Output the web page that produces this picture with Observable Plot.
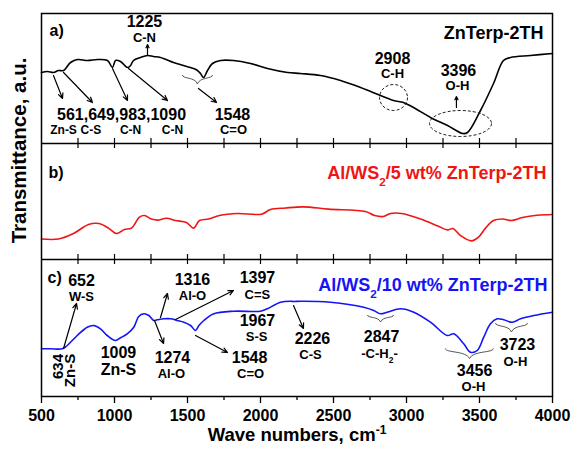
<!DOCTYPE html>
<html>
<head>
<meta charset="utf-8">
<script src="https://cdn.jsdelivr.net/npm/d3@7"></script>
<script src="https://cdn.jsdelivr.net/npm/@observablehq/plot@0.6"></script>
<style>
  html, body { margin: 0; padding: 0; background: white; }
</style>
</head>
<body>
<div id="chart"></div>
<script>
// ---- Spectrum a) ZnTerp-2TH (stacked arbitrary transmittance units)
const wnA = [500,541,582,616,651,699,747,815,884,952,986,1007,1041,1089,1110,1130,1178,1226,1267,1315,1404,1473,1521,1541,1568,1589,1610,1637,1671,1726,1815,1932,2048,2185,2274,2411,2548,2685,2822,2911,2979,3048,3164,3281,3384,3418,3507,3596,3664,3712,3849,4000];
const tA  = [324,325,324,326,326,334,337,336,337,336,329,336,335,329,331,336,339,341,340,339,334,331,329,328,326,323,319,326,333,336,336,333,328,324,323,321,316,309,301,296,294,289,279,271,263,264,286,313,336,339,341,343];

// ---- Spectrum b) Al/WS2/5 wt% ZnTerp-2TH
const wnB = [500,616,719,822,894,959,1014,1068,1116,1171,1205,1253,1295,1356,1418,1493,1541,1582,1644,1719,1842,2007,2068,2171,2294,2466,2719,2781,2842,2890,2966,3096,3219,3281,3318,3370,3445,3493,3541,3596,3658,3719,3794,3894,4000];
const tB  = [157.5,157.5,163,172,173,168.4,163,167,168.4,179.4,181,177.5,176.4,178.3,176,174,168.4,176,177.5,181,183,182.3,187,188.5,189.6,187.4,185,181,180,183,183,177.5,170.2,166.6,168,161,155.6,159.3,168.4,176,177.5,176,179,181.2,182];

// ---- Spectrum c) Al/WS2/10 wt% ZnTerp-2TH
const wnC = [500,562,642,676,745,813,858,904,950,1007,1041,1087,1132,1166,1201,1235,1269,1292,1338,1384,1429,1475,1521,1555,1578,1612,1680,1817,2000,2046,2137,2205,2228,2274,2479,2707,2776,2822,2868,2959,3050,3164,3279,3324,3392,3438,3484,3529,3575,3621,3666,3724,3781,3872,4000];
const tC  = [47.7,47.7,47.7,51,61,69.3,71,67.7,61,56,58.7,62.7,69.3,80,82.7,81,76,76.7,77.7,77.7,76,74.3,71,66,71,76,82.7,85.3,85.3,87.7,94.3,95.3,95,95.3,94.3,89.3,86,82.7,84.3,87.7,84.3,74.3,61,62.7,52.7,44.3,46,59.3,72.7,77.7,76.7,74.3,77.7,81,84.3];

// ---- Axes
const majorTicks = [500,1000,1500,2000,2500,3000,3500,4000];
const minorTicks = [750,1250,1750,2250,2750,3250,3750];
const innerTicks = [750,1000,1250,1500,1750,2000,2250,2500,2750,3000,3250,3500,3750];
const panelBounds = [137, 253];   // c|b and b|a boundaries (stacked units)
const xTitle = "Wave numbers, cm^{-1}";
const yTitle = "Transmittance, a.u.";

// ---- Panel titles
const panelTags = [
  {text: "a)", x: 555, y: 366},
  {text: "b)", x: 548, y: 224},
  {text: "c)", x: 541, y: 119}
];
const sampleNames = [
  {text: "ZnTerp-2TH", x: 3938, y: 363, color: "black"},
  {text: "Al/WS_{2}/5 wt% ZnTerp-2TH", x: 3959, y: 223, color: "#f01515"},
  {text: "Al/WS_{2}/10 wt% ZnTerp-2TH", x: 3966, y: 111, color: "#1414f5"}
];

// ---- Peak numbers
const peakNumbers = [
  {text: "1225", x: 1205, y: 375},
  {text: "561,649,983,1090", x: 1048, y: 282},
  {text: "1548", x: 1808, y: 282},
  {text: "2908", x: 2904, y: 338},
  {text: "3396", x: 3356, y: 326},
  {text: "652", x: 774, y: 116},
  {text: "1009", x: 1027, y: 44},
  {text: "1316", x: 1534, y: 117},
  {text: "1397", x: 1979, y: 119},
  {text: "1274", x: 1397, y: 39},
  {text: "1967", x: 1979, y: 76},
  {text: "1548", x: 1925, y: 39},
  {text: "2226", x: 2356, y: 58},
  {text: "2847", x: 2829, y: 60},
  {text: "3456", x: 3466, y: 26},
  {text: "3723", x: 3760, y: 52}
];
// ---- Bond labels
const bondLabels = [
  {text: "C-N", x: 1205, y: 359},
  {text: "C=O", x: 1815, y: 267},
  {text: "C-H", x: 2904, y: 323},
  {text: "O-H", x: 3349, y: 311},
  {text: "W-S", x: 774, y: 100},
  {text: "Al-O", x: 1534, y: 101},
  {text: "C=S", x: 1979, y: 102},
  {text: "Al-O", x: 1390, y: 23},
  {text: "S-S", x: 1973, y: 60},
  {text: "C=O", x: 1932, y: 23},
  {text: "C-S", x: 2342, y: 42},
  {text: "-C-H_{2}-", x: 2815, y: 43},
  {text: "O-H", x: 3459, y: 10},
  {text: "O-H", x: 3746, y: 35}
];
const bondLabelsSmall = [
  {text: "Zn-S", x: 651, y: 266},
  {text: "C-S", x: 838, y: 266},
  {text: "C-N", x: 1110, y: 266},
  {text: "C-N", x: 1397, y: 266}
];
const bondLabelsLarge = [
  {text: "Zn-S", x: 1027, y: 27}
];
const rotatedLabels = [
  {text: "634", x: 616, y: 30},
  {text: "Zn-S", x: 699, y: 26}
];

// ---- Arrows
const arrows = [
  {x1: 1226, y1: 341, x2: 1226, y2: 352},
  {x1: 582, y1: 321, x2: 644, y2: 298},
  {x1: 651, y1: 324, x2: 849, y2: 294},
  {x1: 986, y1: 328, x2: 1089, y2: 296},
  {x1: 1096, y1: 328, x2: 1363, y2: 296},
  {x1: 1575, y1: 308, x2: 1699, y2: 294},
  {x1: 3342, y1: 289, x2: 3342, y2: 300},
  {x1: 651, y1: 48, x2: 740, y2: 93},
  {x1: 1315, y1: 79, x2: 1363, y2: 103},
  {x1: 1418, y1: 77, x2: 1815, y2: 106},
  {x1: 1274, y1: 76, x2: 1336, y2: 53},
  {x1: 1555, y1: 61, x2: 1774, y2: 44},
  {x1: 2226, y1: 91, x2: 2294, y2: 68}
];

// ---- Circled / braced bands
const circleCH = {x: 2911, y: 299};
const ellipseOH = {x: 3370, y: 273};
const brace1548 = {x: 1568, y: 317};
const brace2847 = {x: 2822, y: 78};
const brace3456 = {x: 3431, y: 43};
const brace3723 = {x: 3719, y: 69};

// ---- helpers (shapes drawn by Plot.dot through custom symbols)
function ellipseSymbol(rx, ry) {
  const k = 0.5523;
  return {draw(c) {
    c.moveTo(rx, 0);
    c.bezierCurveTo(rx, k * ry, k * rx, ry, 0, ry);
    c.bezierCurveTo(-k * rx, ry, -rx, k * ry, -rx, 0);
    c.bezierCurveTo(-rx, -k * ry, -k * rx, -ry, 0, -ry);
    c.bezierCurveTo(k * rx, -ry, rx, -k * ry, rx, 0);
    c.closePath();
  }};
}
function braceSymbol(w, h) {
  const a = w / 2, b = h / 2;
  return {draw(c) {
    c.moveTo(-a, -b);
    c.bezierCurveTo(-a, -b * 0.1, -a * 0.15, -b * 0.6, 0, b);
    c.moveTo(a, -b);
    c.bezierCurveTo(a, -b * 0.1, a * 0.15, -b * 0.6, 0, b);
  }};
}

function rows(xs, ys) { return xs.map((x, i) => ({x, y: ys[i]})); }

const font = "'Liberation Sans', Arial, Helvetica, sans-serif";

const plot = Plot.plot({
  width: 572,
  height: 452,
  marginLeft: 41,
  marginRight: 20,
  marginTop: 13,
  marginBottom: 56,
  x: {domain: [500, 4000]},
  y: {domain: [0, 383], axis: null},
  style: {fontFamily: font, fontWeight: "bold", fontSize: "16px", color: "black", background: "white", overflow: "visible"},
  marks: [
    Plot.line(rows(wnA, tA), {x: "x", y: "y", stroke: "black", strokeWidth: 1.6, curve: "catmull-rom"}),
    Plot.line(rows(wnB, tB), {x: "x", y: "y", stroke: "#f01515", strokeWidth: 1.6, curve: "catmull-rom"}),
    Plot.line(rows(wnC, tC), {x: "x", y: "y", stroke: "#1414f5", strokeWidth: 1.6, curve: "catmull-rom"}),
    Plot.frame({stroke: "black", strokeWidth: 1.5}),
    Plot.ruleY(panelBounds, {stroke: "black", strokeWidth: 1.5}),
    // inner ticks at panel boundaries (pointing into both panels)
    ...panelBounds.map(b => Plot.ruleX(innerTicks, {y1: b, y2: b + 5, stroke: "black", strokeWidth: 1.2})),
    ...panelBounds.map(b => Plot.ruleX(innerTicks, {y1: b, y2: b - 5, stroke: "black", strokeWidth: 1.2})),
    // bottom axis
    Plot.axisX({ticks: majorTicks, tickSize: 7, tickPadding: 6, tickFormat: d => String(d), label: null, fontSize: 16, fontWeight: "bold", strokeWidth: 1.3}),
    Plot.ruleX(minorTicks, {y1: 0, y2: -4, stroke: "black", strokeWidth: 1.3}),
    // axis titles
    Plot.text([xTitle], {text: d => d, frameAnchor: "bottom", dy: 44, fontSize: 18.5, fontWeight: "bold"}),
    Plot.text([yTitle], {text: d => d, frameAnchor: "left", y: () => 246, dx: -22, rotate: -90, textAnchor: "middle", fontSize: 20.5, fontWeight: "bold"}),
    // panel tags & sample names
    Plot.text(panelTags, {x: "x", y: "y", text: "text", textAnchor: "start", fontSize: 16, fontWeight: "bold"}),
    Plot.text(sampleNames, {x: "x", y: "y", text: "text", fill: "color", textAnchor: "end", fontSize: 18, fontWeight: "bold"}),
    // annotations
    Plot.text(peakNumbers, {x: "x", y: "y", text: "text", fontSize: 16, fontWeight: "bold"}),
    Plot.text(bondLabels, {x: "x", y: "y", text: "text", fontSize: 13, fontWeight: "bold"}),
    Plot.text(bondLabelsSmall, {x: "x", y: "y", text: "text", fontSize: 12, fontWeight: "bold"}),
    Plot.text(bondLabelsLarge, {x: "x", y: "y", text: "text", fontSize: 16, fontWeight: "bold"}),
    Plot.text(rotatedLabels, {x: "x", y: "y", text: "text", rotate: -90, fontSize: 15, fontWeight: "bold"}),
    Plot.arrow(arrows, {x1: "x1", y1: "y1", x2: "x2", y2: "y2", stroke: "black", strokeWidth: 1.2, headLength: 7, headAngle: 50}),
    Plot.dot([circleCH], {x: "x", y: "y", symbol: ellipseSymbol(14, 13), fill: "none", stroke: "#222", strokeWidth: 1, strokeDasharray: "3,2"}),
    Plot.dot([ellipseOH], {x: "x", y: "y", symbol: ellipseSymbol(31, 13), fill: "none", stroke: "#222", strokeWidth: 1, strokeDasharray: "3,2"}),
    Plot.dot([brace1548], {x: "x", y: "y", symbol: braceSymbol(30, 9), fill: "none", stroke: "#555", strokeWidth: 1}),
    Plot.dot([brace2847], {x: "x", y: "y", symbol: braceSymbol(26, 7), fill: "none", stroke: "#555", strokeWidth: 1}),
    Plot.dot([brace3456], {x: "x", y: "y", symbol: braceSymbol(48, 10), fill: "none", stroke: "#555", strokeWidth: 1}),
    Plot.dot([brace3723], {x: "x", y: "y", symbol: braceSymbol(32, 9), fill: "none", stroke: "#555", strokeWidth: 1})
  ]
});

// Render _{sub} and ^{sup} as real tspans
d3.select(plot).selectAll("text").each(function () {
  const s = this.textContent;
  if (!/[_^]\{/.test(s)) return;
  const el = d3.select(this);
  el.text(null);
  const re = /([_^])\{([^}]*)\}/g;
  let last = 0, m;
  while ((m = re.exec(s))) {
    if (m.index > last) el.append("tspan").text(s.slice(last, m.index));
    el.append("tspan")
      .attr("baseline-shift", m[1] === "_" ? "sub" : "super")
      .attr("font-size", "65%")
      .text(m[2]);
    last = re.lastIndex;
  }
  if (last < s.length) el.append("tspan").text(s.slice(last));
});

document.getElementById("chart").appendChild(plot);
</script>
</body>
</html>
